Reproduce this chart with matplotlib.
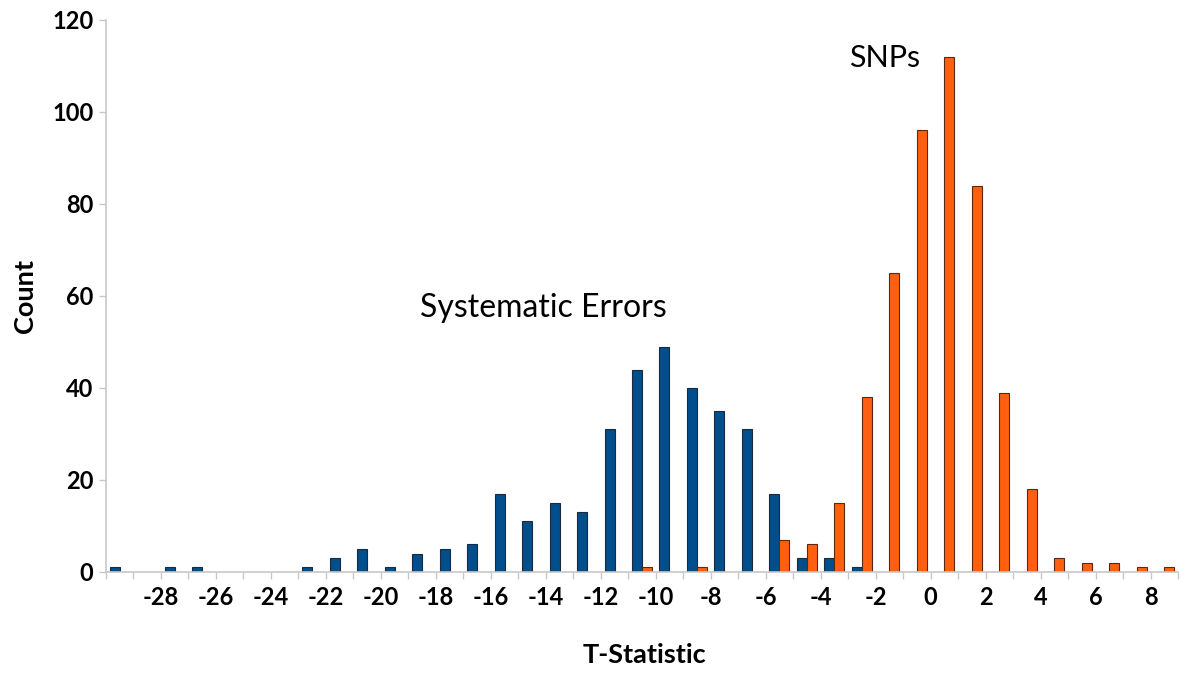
import numpy as np
import matplotlib.pyplot as plt
from matplotlib.ticker import FixedLocator

plt.rcParams['font.family'] = ['Lato', 'DejaVu Sans']
plt.rcParams['axes.unicode_minus'] = False

# histogram bins: left edge of each 1-unit bin of the T-statistic
bin_left = list(range(-30, 9))
systematic = [1, 0, 1, 1, 0, 0, 0, 1, 3, 5, 1, 4, 5, 6, 17, 11, 15, 13, 31, 44,
              49, 40, 35, 31, 17, 3, 3, 1, 0, 0, 0, 0, 0, 0, 0, 0, 0, 0, 0]
snps = [0, 0, 0, 0, 0, 0, 0, 0, 0, 0, 0, 0, 0, 0, 0, 0, 0, 0, 0, 1,
        0, 1, 0, 0, 7, 6, 15, 38, 65, 96, 112, 84, 39, 18, 3, 2, 2, 1, 1]
label_ticks = list(range(-28, 9, 2))

blue = '#004f8c'
orange = '#ff5f0e'

fig = plt.figure(figsize=(12, 6.82), dpi=100)
ax = fig.add_axes([0.0883, 0.1613, 0.8934, 0.8094])

w = 0.364
x = np.array(bin_left) + 0.5
ax.bar(x - w / 2, systematic, width=w, color=blue, edgecolor='#1a2a40', linewidth=0.8)
ax.bar(x + w / 2, snps, width=w, color=orange, edgecolor='#5a2a10', linewidth=0.8)

ax.set_xlim(-30, 9)
ax.set_ylim(0, 120)
ax.set_yticks(range(0, 121, 20))
ax.set_xticks(label_ticks)
ax.xaxis.set_minor_locator(FixedLocator([v for v in range(-30, 10) if v not in label_ticks]))

for s in ['top', 'right']:
    ax.spines[s].set_visible(False)
for s in ['left', 'bottom']:
    ax.spines[s].set_color('#c8c8c8')
    ax.spines[s].set_linewidth(1.2)

ax.tick_params(axis='both', which='both', colors='#c8c8c8', labelcolor='black',
               labelsize=17, length=5, width=1)
ax.tick_params(axis='x', pad=5)
ax.tick_params(axis='y', pad=4)
for lab in ax.get_xticklabels() + ax.get_yticklabels():
    lab.set_fontweight('bold')

ax.set_xlabel('T-Statistic', fontsize=19.5, fontweight='bold')
ax.set_ylabel('Count', fontsize=19.5, fontweight='bold')
ax.xaxis.set_label_coords(0.502, -0.128)
ax.yaxis.set_label_coords(-0.064, 0.5)

ax.text(-14.07, 57.4, 'Systematic Errors', fontsize=23, ha='center', va='center')
ax.text(-1.66, 111.7, 'SNPs', fontsize=22, ha='center', va='center')

fig.savefig('out.png')
